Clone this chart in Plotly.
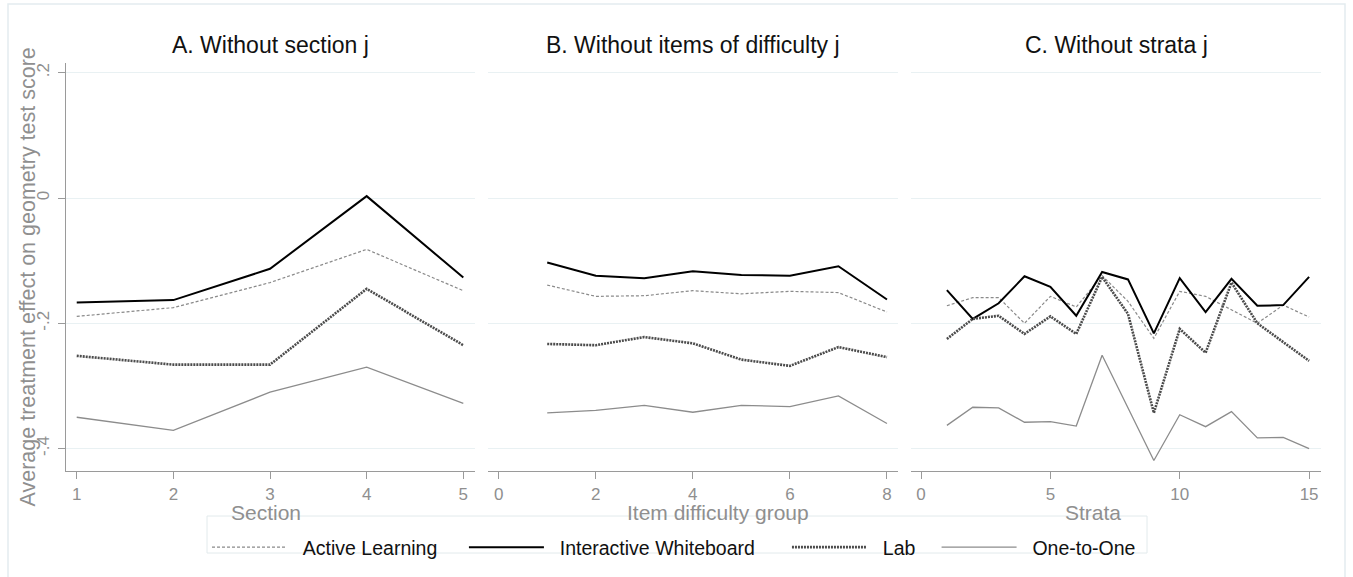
import plotly.graph_objects as go

# ---------------- data ----------------
section_x = [1, 2, 3, 4, 5]
difficulty_x = [1, 2, 3, 4, 5, 6, 7, 8]
strata_x = list(range(1, 16))

series_names = ["Active Learning", "Interactive Whiteboard", "Lab", "One-to-One"]

al_a = [-0.189, -0.175, -0.135, -0.082, -0.148]
iw_a = [-0.167, -0.163, -0.113, 0.003, -0.127]
lab_a = [-0.252, -0.266, -0.266, -0.145, -0.235]
o2o_a = [-0.350, -0.371, -0.310, -0.270, -0.328]

al_b = [-0.139, -0.157, -0.156, -0.148, -0.153, -0.149, -0.151, -0.182]
iw_b = [-0.103, -0.124, -0.128, -0.117, -0.123, -0.124, -0.109, -0.162]
lab_b = [-0.233, -0.235, -0.222, -0.232, -0.258, -0.268, -0.238, -0.254]
o2o_b = [-0.343, -0.339, -0.331, -0.342, -0.331, -0.333, -0.316, -0.360]

al_c = [-0.172, -0.159, -0.159, -0.200, -0.157, -0.174, -0.124, -0.165,
        -0.224, -0.149, -0.157, -0.179, -0.200, -0.171, -0.190]
iw_c = [-0.147, -0.193, -0.168, -0.125, -0.142, -0.188, -0.118, -0.130,
        -0.216, -0.128, -0.182, -0.129, -0.172, -0.171, -0.126]
lab_c = [-0.225, -0.193, -0.188, -0.217, -0.189, -0.217, -0.126, -0.185,
         -0.343, -0.209, -0.247, -0.135, -0.200, -0.230, -0.260]
o2o_c = [-0.363, -0.334, -0.335, -0.358, -0.357, -0.364, -0.251, -0.335,
         -0.419, -0.346, -0.365, -0.341, -0.383, -0.382, -0.400]

panel_titles = ["A. Without section j", "B. Without items of difficulty j", "C. Without strata j"]
x_titles = ["Section", "Item difficulty group", "Strata"]
y_title = "Average treatment effect on geometry test score"

y_tickvals = [0.2, 0, -0.2, -0.4]
y_ticktext = [".2", "0", "-.2", "-.4"]
a_tickvals = [1, 2, 3, 4, 5]
b_tickvals = [0, 2, 4, 6, 8]
c_tickvals = [0, 5, 10, 15]

# ---------------- styling ----------------
W, H = 1353, 577
FONT = "Liberation Sans, Arial, Helvetica, sans-serif"
GRAY_TXT = "#8f8f8f"
AXIS_COL = "#9a9a9a"
GRID_COL = "#e9f1f3"
NB = "\u00a0"

styles = {
    "Active Learning": dict(color="#8a8a8a", width=1.2, dash="3px,2px"),
    "Interactive Whiteboard": dict(color="#000000", width=2.0, dash="solid"),
    "Lab": dict(color="#4c4c4c", width=2.6, dash="2px,1px"),
    "One-to-One": dict(color="#8c8c8c", width=1.3, dash="solid"),
}
# legend spacing (leading / trailing non-breaking spaces)
legend_pad = {
    "Active Learning": (2, 4),
    "Interactive Whiteboard": (2, 5),
    "Lab": (2, 3),
    "One-to-One": (2, 0),
}

panels = [
    ("x", "y", section_x, [al_a, iw_a, lab_a, o2o_a]),
    ("x2", "y2", difficulty_x, [al_b, iw_b, lab_b, o2o_b]),
    ("x3", "y3", strata_x, [al_c, iw_c, lab_c, o2o_c]),
]

fig = go.Figure()
for pi, (xa, ya, xs, ys_list) in enumerate(panels):
    for name, ys in zip(series_names, ys_list):
        lead, trail = legend_pad[name]
        fig.add_trace(go.Scatter(
            x=xs, y=ys, mode="lines", name=NB * lead + name + NB * trail,
            line=styles[name], xaxis=xa, yaxis=ya,
            showlegend=(pi == 0), legendgroup=name,
        ))

# pixel -> paper helpers
def px(v):
    return v / W

def py(v):
    return 1 - v / H

doms = [(66, 475), (488, 898), (911, 1321)]
ydom = [py(471), py(63)]
yrange = [-0.4358, 0.2155]
xranges = [[0.889, 5.121], [-0.22, 8.227], [-0.387, 15.46]]
xticks = [a_tickvals, b_tickvals, c_tickvals]

common_x = dict(
    showline=True, linecolor=AXIS_COL, linewidth=1.2,
    ticks="outside", ticklen=7, tickwidth=1.2, tickcolor=AXIS_COL,
    tickfont=dict(family=FONT, size=17, color=GRAY_TXT),
    showgrid=False, zeroline=False, automargin=False,
    ticklabelstandoff=0,
)
for i, (d0, d1) in enumerate(doms):
    key = "xaxis" if i == 0 else f"xaxis{i+1}"
    fig.layout[key] = dict(
        domain=[px(d0), px(d1)], range=xranges[i],
        tickvals=xticks[i], anchor="y" if i == 0 else f"y{i+1}",
        **common_x,
    )

fig.layout["yaxis"] = dict(
    domain=ydom, range=yrange, anchor="x",
    tickvals=y_tickvals, ticktext=y_ticktext, tickangle=-90,
    showline=True, linecolor=AXIS_COL, linewidth=1.2,
    ticks="outside", ticklen=7, tickwidth=1.2, tickcolor=AXIS_COL,
    tickfont=dict(family=FONT, size=17, color=GRAY_TXT),
    ticklabelstandoff=2,
    showgrid=True, gridcolor=GRID_COL, gridwidth=1.2,
    zeroline=False, automargin=False,
)
for i in (2, 3):
    fig.layout[f"yaxis{i}"] = dict(
        domain=ydom, range=yrange, anchor=f"x{i}",
        tickvals=y_tickvals, showticklabels=False, ticks="",
        showline=False, showgrid=True, gridcolor=GRID_COL, gridwidth=1.2,
        zeroline=False, automargin=False,
    )

annotations = []
for i, (d0, d1) in enumerate(doms):
    annotations.append(dict(
        text=panel_titles[i], xref="paper", yref="paper",
        x=px((d0 + d1) / 2), y=py(45), xanchor="center", yanchor="middle",
        showarrow=False, font=dict(family=FONT, size=23, color="#111111"),
    ))
x_title_centers = [266, 718, 1093]
for i, cx in enumerate(x_title_centers):
    annotations.append(dict(
        text=x_titles[i], xref="paper", yref="paper",
        x=px(cx), y=py(512), xanchor="center", yanchor="middle",
        showarrow=False, font=dict(family=FONT, size=21, color=GRAY_TXT),
    ))
annotations.append(dict(
    text=y_title, xref="paper", yref="paper", x=px(27.5), y=py(277),
    xanchor="center", yanchor="middle", textangle=-90, showarrow=False,
    font=dict(family=FONT, size=21.5, color=GRAY_TXT),
))

fig.update_layout(
    width=W, height=H, margin=dict(l=0, r=0, t=0, b=0),
    paper_bgcolor="white", plot_bgcolor="white",
    template="none",
    annotations=annotations,
    showlegend=True,
    legend=dict(
        orientation="h", x=px(207), y=py(528), xanchor="left", yanchor="top",
        borderwidth=0, bgcolor="rgba(255,255,255,0)",
        font=dict(family=FONT, size=19.5, color="#111111"),
        itemwidth=75, tracegroupgap=0,
    ),
    shapes=[
        dict(
            type="rect", xref="paper", yref="paper",
            x0=px(8), x1=px(1345), y0=py(585), y1=py(4),
            line=dict(color="#e3ecef", width=1.5), fillcolor="rgba(0,0,0,0)",
            layer="below",
        ),
        dict(
            type="rect", xref="paper", yref="paper",
            x0=px(207), x1=px(1147), y0=py(553), y1=py(516),
            line=dict(color="#e2eaec", width=1), fillcolor="rgba(0,0,0,0)",
            layer="below",
        ),
    ],
)

fig.write_html("out.html")
